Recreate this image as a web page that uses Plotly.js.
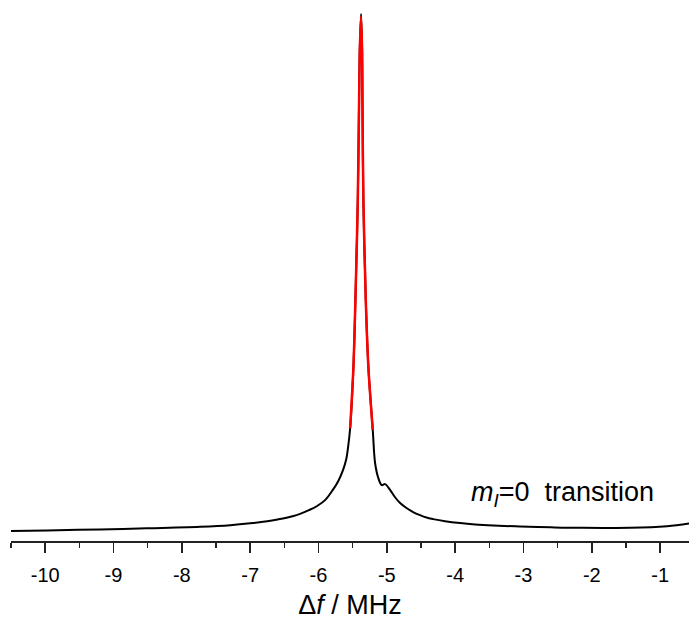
<!DOCTYPE html>
<html>
<head>
<meta charset="utf-8">
<script src="https://cdn.plot.ly/plotly-3.0.1.min.js"></script>
<style>
  html, body { margin: 0; padding: 0; background: #fff; }
  #chart { width: 689px; height: 623px; }
</style>
</head>
<body>
<div id="chart"></div>
<script>
// Measured spectrum of the m_I = 0 transition (frequency offset in MHz, normalised intensity)
const freqMHz = [
  -10.50, -9.97, -9.20, -8.51, -7.73, -7.29, -7.00, -6.75, -6.52, -6.38,
  -6.27, -6.14, -6.02, -5.90, -5.79, -5.71, -5.64, -5.596, -5.567, -5.537,
  -5.489, -5.460, -5.425, -5.406, -5.396, -5.377, -5.362, -5.357, -5.343, -5.308,
  -5.270, -5.206, -5.172, -5.128, -5.074, -5.026, -4.953, -4.880, -4.806, -4.718,
  -4.616, -4.514, -4.420, -4.323, -4.148, -3.928, -3.709, -3.445, -3.050, -2.600,
  -2.172, -1.441, -0.900, -0.578
];
const intensity = [
  0.019, 0.020, 0.022, 0.024, 0.027, 0.030, 0.0335, 0.0375, 0.0425, 0.047,
  0.0515, 0.0585, 0.0664, 0.078, 0.097, 0.114, 0.135, 0.154, 0.178, 0.214,
  0.330, 0.457, 0.647, 0.837, 0.932, 1.000, 0.932, 0.837, 0.647, 0.457,
  0.330, 0.211, 0.148, 0.121, 0.106, 0.108, 0.097, 0.083, 0.072, 0.063,
  0.055, 0.049, 0.0445, 0.0415, 0.0375, 0.034, 0.0315, 0.0295, 0.0275, 0.026,
  0.025, 0.025, 0.028, 0.033
];

// Lorentzian fit of the central line, shown over its upper part
const fitFreqMHz = [
  -5.537, -5.489, -5.460, -5.425, -5.406, -5.396, -5.378, -5.362, -5.357, -5.343,
  -5.308, -5.270, -5.206
];
const fitIntensity = [
  0.214, 0.330, 0.457, 0.647, 0.837, 0.930, 0.995, 0.930, 0.837, 0.647,
  0.457, 0.330, 0.211
];

const tickValues = [-10, -9, -8, -7, -6, -5, -4, -3, -2, -1];
const tickLabels = ['-10', '-9', '-8', '-7', '-6', '-5', '-4', '-3', '-2', '-1'];

const FONT = 'Arial, "Liberation Sans", sans-serif';

const traces = [
  {
    x: freqMHz, y: intensity,
    type: 'scatter', mode: 'lines',
    line: { color: '#000000', width: 2, shape: 'spline', smoothing: 1 },
    hoverinfo: 'skip', showlegend: false
  },
  {
    x: fitFreqMHz, y: fitIntensity,
    type: 'scatter', mode: 'lines',
    line: { color: '#ff0000', width: 2.5, shape: 'spline', smoothing: 0.8 },
    hoverinfo: 'skip', showlegend: false
  }
];

const layout = {
  width: 689, height: 623,
  margin: { l: 11, r: 0, t: 1, b: 82 },
  paper_bgcolor: '#ffffff', plot_bgcolor: '#ffffff',
  showlegend: false,
  font: { family: FONT, color: '#000000' },
  xaxis: {
    range: [-10.5, -0.578],
    showgrid: false, zeroline: false,
    showline: true, linecolor: '#222222', linewidth: 2,
    ticks: 'outside', ticklen: 10, tickwidth: 1.5, tickcolor: '#222222',
    tickmode: 'array', tickvals: tickValues, ticktext: tickLabels,
    tickfont: { family: FONT, size: 20, color: '#000000' },
    ticklabelstandoff: 5,
    minor: { tick0: -10.5, dtick: 0.5, ticks: 'outside', ticklen: 5, tickwidth: 1.5, tickcolor: '#222222' },
    title: { text: 'Δ<i>f</i> / MHz', font: { family: FONT, size: 27, color: '#000000' }, standoff: 10 }
  },
  yaxis: {
    range: [0, 1.0247],
    visible: false, showgrid: false, zeroline: false
  },
  annotations: [
    {
      xref: 'paper', yref: 'paper',
      x: 0.813, y: 0.087, xanchor: 'center', yanchor: 'middle',
      text: '<i>m</i><sub><i>I</i></sub>=0\u00A0\u00A0transition',
      showarrow: false,
      font: { family: FONT, size: 27, color: '#000000' }
    }
  ]
};

Plotly.newPlot('chart', traces, layout, { staticPlot: true, displayModeBar: false });
</script>
</body>
</html>
